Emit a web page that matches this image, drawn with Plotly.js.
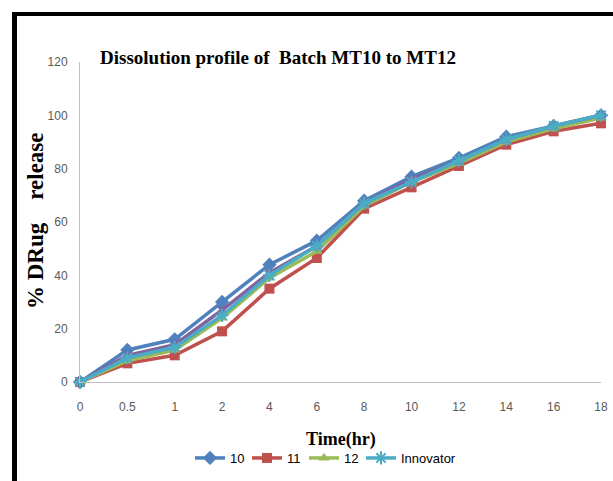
<!DOCTYPE html>
<html>
<head>
<meta charset="utf-8">
<script src="https://cdn.plot.ly/plotly-3.0.1.min.js"></script>
<style>
  html, body { margin: 0; padding: 0; background: #ffffff; }
  #wrap { position: relative; width: 613px; height: 481px; overflow: hidden; }
  #chart { position: absolute; left: 0; top: 0; width: 613px; height: 481px; }
  #frame { position: absolute; left: 12px; top: 12px; width: 610px; height: 480px;
           border-top: 4px solid #000; border-left: 5px solid #000; pointer-events: none; }
</style>
</head>
<body>
<div id="wrap">
  <div id="chart"></div>
  <div id="frame"></div>
</div>
<script>
// Time points (hr) as category labels
const timeLabels = ["0", "0.5", "1", "2", "4", "6", "8", "10", "12", "14", "16", "18"];
// % drug release per batch
const batch10   = [0, 12, 16, 30, 44, 53, 68, 77, 84, 92, 96, 100];
const batch11   = [0, 7, 10, 19, 35, 46.5, 65, 73, 81, 89, 94, 97];
const batch12   = [0, 8, 12, 24, 39, 49, 66, 75, 82, 90, 95, 99];
const hiddenSeries = [0, 10, 14, 27, 41, 51, 67, 76, 83, 91, 96, 100];
const innovator = [0, 9, 13, 25, 40, 51, 67, 75, 83, 91, 96, 100];

const seriesNames = ["10", "11", "12", "", "Innovator"];

const traces = [
  { x: timeLabels, y: batch10, name: seriesNames[0], type: "scatter", mode: "lines+markers",
    legendwidth: 12,
    line: { color: "#4F81BD", width: 3.5 },
    marker: { symbol: "diamond", size: 11, color: "#4F81BD" }, cliponaxis: false },
  { x: timeLabels, y: batch11, name: seriesNames[1], type: "scatter", mode: "lines+markers",
    legendwidth: 12,
    line: { color: "#C0504D", width: 3.5 },
    marker: { symbol: "square", size: 10, color: "#C0504D" }, cliponaxis: false },
  { x: timeLabels, y: batch12, name: seriesNames[2], type: "scatter", mode: "lines+markers",
    legendwidth: 12,
    line: { color: "#9BBB59", width: 3.5 },
    marker: { symbol: "triangle-up", size: 10, color: "#9BBB59" }, cliponaxis: false },
  { x: timeLabels, y: hiddenSeries, name: seriesNames[3], type: "scatter", mode: "lines+markers",
    showlegend: false,
    line: { color: "#8064A2", width: 3.5 },
    marker: { symbol: "x", size: 8, color: "#8064A2" }, cliponaxis: false },
  { x: timeLabels, y: innovator, name: seriesNames[4], type: "scatter", mode: "lines+markers",
    line: { color: "#4BACC6", width: 3.5 },
    marker: { symbol: "asterisk-open", size: 11, line: { color: "#4BACC6", width: 2 } }, cliponaxis: false }
];

const axisFont = { family: "Liberation Sans, Arial, sans-serif", size: 12, color: "#595959" };

const layout = {
  width: 613, height: 481,
  margin: { l: 80, r: 12, t: 62, b: 99 },
  paper_bgcolor: "#ffffff", plot_bgcolor: "#ffffff",
  showlegend: true,
  title: {
    text: "Dissolution profile of\u00a0\u00a0Batch MT10 to MT12",
    xref: "container", yref: "container",
    x: 100 / 613, xanchor: "left",
    y: 1 - 57 / 481, yanchor: "middle",
    font: { family: "Liberation Serif, Times New Roman, serif", size: 19, color: "#000000", weight: "bold" }
  },
  xaxis: {
    type: "category",
    range: [0, 11],
    showgrid: false, zeroline: false,
    showline: true, linecolor: "#BFBFBF", linewidth: 1,
    ticks: "outside", ticklen: 14, tickcolor: "rgba(0,0,0,0)",
    tickfont: axisFont,
    fixedrange: true
  },
  yaxis: {
    range: [0, 120], dtick: 20,
    showgrid: false, zeroline: false,
    showline: true, linecolor: "#BFBFBF", linewidth: 1,
    ticks: "outside", ticklen: 9, tickcolor: "rgba(0,0,0,0)",
    tickfont: axisFont,
    fixedrange: true
  },
  legend: {
    orientation: "h",
    xref: "container", yref: "container",
    x: 190 / 613, xanchor: "left",
    y: 1 - 458 / 481, yanchor: "middle",
    font: { family: "Liberation Sans, Arial, sans-serif", size: 13, color: "#000000" },
    itemwidth: 30,
    bgcolor: "rgba(0,0,0,0)"
  },
  annotations: [
    { text: "Time(hr)", xref: "paper", yref: "paper",
      x: (341 - 80) / 521, y: (382 - 439) / 320, xanchor: "center", yanchor: "middle",
      showarrow: false,
      font: { family: "Liberation Serif, Times New Roman, serif", size: 18, color: "#000000", weight: "bold" } },
    { text: "% DRug\u00a0\u00a0\u00a0\u00a0release", xref: "paper", yref: "paper",
      x: (35 - 80) / 521, y: (382 - 221) / 320, xanchor: "center", yanchor: "middle",
      textangle: -90, showarrow: false,
      font: { family: "Liberation Serif, Times New Roman, serif", size: 23, color: "#000000", weight: "bold" } }
  ]
};

Plotly.newPlot("chart", traces, layout, { displayModeBar: false, staticPlot: true });
</script>
</body>
</html>
